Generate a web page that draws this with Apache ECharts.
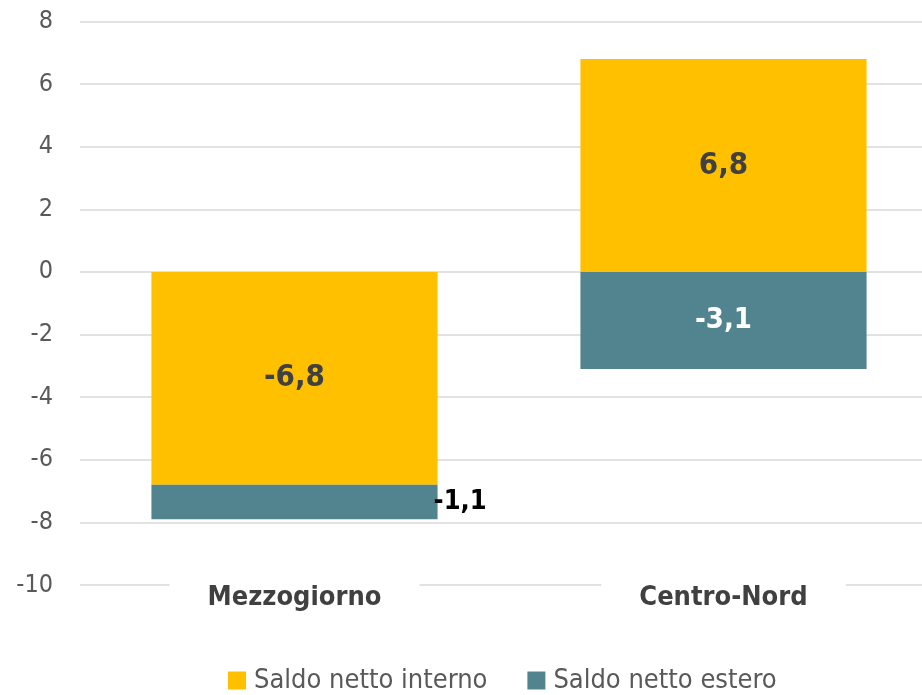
<!DOCTYPE html>
<html>
<head>
<meta charset="utf-8">
<script src="https://cdn.jsdelivr.net/npm/echarts@6/dist/echarts.min.js"></script>
<style>
  html, body { margin: 0; padding: 0; background: #fff; overflow: hidden; }
  /* the plot runs a little past the right edge of the window, as in the original */
  #chart { width: 938px; height: 695px; }
</style>
</head>
<body>
<div id="chart"></div>
<script>
const categories = ['Mezzogiorno', 'Centro-Nord']
const interno = [-6.8, 6.8]
const estero = [-1.1, -3.1]
const seriesNames = ['Saldo netto interno', 'Saldo netto estero']

const FONT = "'DejaVu Sans Condensed', 'DejaVu Sans', sans-serif"
const fmt = v => String(v).replace('.', ',')

const chart = echarts.init(document.getElementById('chart'))

const option = {
  animation: false,
  grid: { left: 80, top: 21.5, bottom: 110, right: 0 },
  legend: {
    bottom: -4,
    left: 223,
    itemWidth: 18,
    itemHeight: 18,
    itemGap: 40,
    icon: 'rect',
    textStyle: { color: '#595959', fontSize: 27, fontFamily: FONT, padding: [0, 0, 0, 3] }
  },
  xAxis: {
    type: 'category',
    data: categories,
    axisLine: { show: false },
    axisTick: { show: false },
    axisLabel: {
      margin: -4,
      color: '#404040',
      fontSize: 27,
      fontWeight: 'bold',
      fontFamily: FONT,
      backgroundColor: '#fff',
      padding: [3, 38, 0, 38]
    },
    z: 5
  },
  yAxis: {
    type: 'value',
    min: -10,
    max: 8,
    interval: 2,
    axisLine: { show: false },
    axisTick: { show: false },
    splitLine: { lineStyle: { color: '#d9d9d9', width: 1.5 } },
    axisLabel: { color: '#595959', fontSize: 25, fontFamily: FONT, margin: 27 }
  },
  series: [
    {
      name: seriesNames[0],
      type: 'bar',
      stack: 'tot',
      barCategoryGap: '33.3%',
      itemStyle: { color: '#FFC000' },
      label: {
        show: true,
        position: 'inside',
        formatter: p => fmt(p.value),
        color: '#404040',
        fontSize: 31,
        fontWeight: 'bold',
        fontFamily: FONT
      },
      data: interno
    },
    {
      name: seriesNames[1],
      type: 'bar',
      stack: 'tot',
      itemStyle: { color: '#528490' },
      data: estero.map((v, i) => ({
        value: v,
        label: i === 0
          ? { show: true, position: 'right', distance: -4, color: '#000', fontSize: 27 }
          : { show: true, position: 'inside', color: '#fff', fontSize: 29 }
      })),
      label: {
        formatter: p => fmt(p.value),
        fontWeight: 'bold',
        fontFamily: FONT
      }
    }
  ]
}

chart.setOption(option)
</script>
</body>
</html>
